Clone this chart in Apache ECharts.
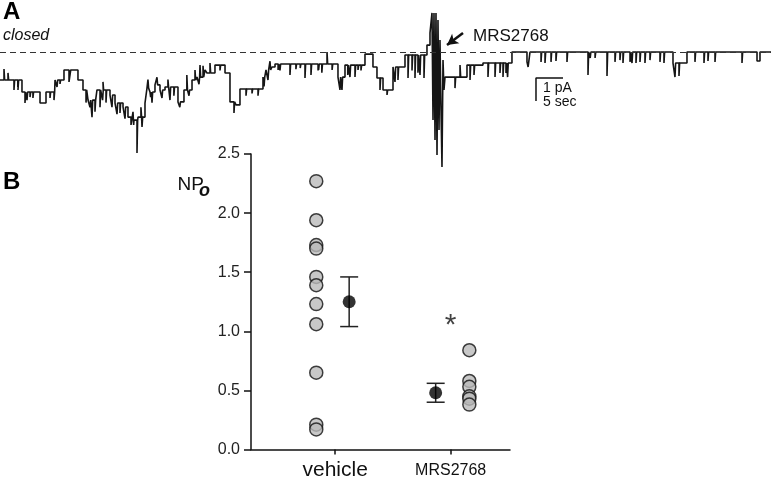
<!DOCTYPE html>
<html><head><meta charset="utf-8">
<script src="https://cdn.jsdelivr.net/npm/echarts@6/dist/echarts.min.js"></script>
<style>html,body{margin:0;padding:0;background:#fff}#c{width:771px;height:481px}</style>
</head><body><div id="c"></div>
<script>
const FONT = '"Liberation Sans", Arial, Helvetica, sans-serif';

// ---------- Panel A: single-channel trace (time in s, current in pA; 0 = closed) ----------
const traceLevels = [
  [0, -1.22], [4.07, -1.74], [7.41, -2.22], [8.52, -1.74], [10.19, -1.22], [11.85, -0.78],
  [12.78, -1.30], [13.1, -0.78], [14.44, -1.22], [15.37, -1.65], [16.30, -2.09], [17.96, -1.65],
  [20.37, -1.87], [21.30, -2.22], [22.78, -2.39], [23.70, -2.83], [24.26, -3.17], [24.81, -2.96],
  [25.56, -2.83], [26.85, -2.22], [27.22, -1.57], [27.78, -1.74], [28.70, -1.43], [29.63, -1.65],
  [30.56, -1.52], [32.96, -2.17], [34.07, -1.65], [35.56, -1.22], [36.48, -1.09], [37.96, -0.78],
  [38.33, -0.91], [39.81, -0.57], [41.67, -0.91], [42.59, -2.17], [43.70, -2.30], [44.44, -1.61],
  [48.70, -1.09], [49.26, -0.78], [50.37, -0.65], [50.93, -0.52], [62.59, -1.09], [63.89, -0.57],
  [67.59, -0.09], [69.07, -0.65], [69.81, -1.13], [70.93, -1.65], [72.78, -0.65], [75.00, -0.13],
  [79.07, 0.30], [79.63, 0.83],
  [80.00, 1.70], [80.19, -2.96], [80.37, 1.70], [80.56, -3.83], [80.74, 1.70], [80.93, -4.48],
  [81.11, 1.39], [81.30, -3.39], [81.48, 0.52], [81.67, -2.52], [81.85, -5.0], [82.04, -0.35],
  [82.22, -1.65], [82.41, -1.09], [86.48, -0.57], [89.44, -0.48], [94.81, 0], [97.59, -0.43],
  [98.15, 0], [124.63, -0.48], [127.22, 0], [140.19, -0.39], [140.74, 0], [142.78, 0]
];
const traceSpikes = [
  [0.74, -0.74], [1.48, -0.91], [2.59, -1.65], [3.3, -1.52], [3.33, -1.65], [4.63, -2.22],
  [5.0, -2.09], [5.56, -1.96], [6.1, -2.0], [9.26, -2.0], [10.0, -2.09], [10.56, -1.52],
  [11.11, -1.39], [15.93, -2.2], [16.67, -2.4], [17.04, -2.83], [17.59, -2.6], [18.52, -2.4],
  [19.0, -2.09], [19.07, -1.3], [19.63, -2.2], [20.74, -2.4], [21.67, -2.7], [22.22, -2.65],
  [23.15, -2.9], [24.63, -2.6], [25.37, -4.39], [26.1, -2.4], [26.30, -3.26], [27.4, -1.2],
  [27.9, -1.96], [28.15, -2.2], [29.07, -1.1], [30.0, -2.0], [31.1, -1.2], [31.48, -2.09],
  [32.2, -1.9], [33.3, -2.4], [34.6, -1.0], [35.0, -1.9], [36.11, -0.78], [36.85, -1.4],
  [37.04, -0.57], [37.6, -0.6], [38.89, -0.48], [39.26, -0.9], [40.74, -0.8], [41.1, -0.5],
  [43.33, -2.65], [45.56, -1.9], [46.67, -1.8], [47.78, -1.9], [48.9, -1.5], [49.63, -1.22],
  [50.0, -0.4], [51.5, -0.78], [51.85, -0.8], [53.70, -1.00], [54.8, -0.75], [55.6, -0.7],
  [56.48, -1.13], [57.59, -1.00], [58.9, -0.8], [59.0, -0.78], [59.6, -0.9], [60.56, 0],
  [61.5, -0.78], [62.96, -1.65], [63.33, -1.65], [64.4, -1.0], [64.81, -1.09], [65.74, -1.09],
  [66.30, -0.78], [66.85, -0.8], [70.37, -1.65], [71.67, -1.87], [73.15, -1.3], [73.70, -1.22],
  [75.56, -1.13], [76.3, -0.8], [76.85, -1.13], [77.4, -0.9], [77.78, -1.00], [78.52, -1.13],
  [84.26, -1.57], [85.19, -0.57], [87.04, -1.22], [87.78, -1.00],
  [90.37, -1.09], [91.67, -1.09], [92.59, -0.91], [93.15, -1.09], [93.70, -0.91], [94.0, -1.09],
  [97.8, -0.65], [100.19, -0.43], [100.93, -0.48], [102.04, -0.43], [102.96, -0.39], [105.00, -0.43],
  [108.89, -1.00], [109.3, -0.26], [110.2, -0.26], [112.41, -1.04], [113.89, -0.43], [114.81, -0.35],
  [115.37, -0.48], [116.67, -0.43], [117.04, -0.48], [117.78, -0.48], [118.52, -0.43], [119.44, -0.48],
  [120.37, -0.35], [122.22, -0.43], [122.96, -0.48], [125.00, -1.09], [125.74, -1.04], [128.70, -0.43],
  [130.37, -0.48], [131.11, -0.39], [132.41, -0.43], [137.41, -0.48]
];
const traceDuration = 142.78;
const scaleBarCurrent = 1;   // pA
const scaleBarTime = 5;      // s

// ---------- Panel B: NPo ----------
const groupNames = ['vehicle', 'MRS2768'];
const vehicleNPo = [2.27, 1.94, 1.73, 1.70, 1.46, 1.39, 1.23, 1.06, 0.65, 0.21, 0.17];
const mrsNPo = [0.84, 0.58, 0.53, 0.45, 0.43, 0.38];
const groupMean = [1.25, 0.48];
const groupErrLow = [1.04, 0.40];
const groupErrHigh = [1.46, 0.56];
const yTickLabels = ['0.0', '0.5', '1.0', '1.5', '2.0', '2.5'];

// layout (axis units of the panel-B x axis, 0..10)
const GROUP_X = [3.25, 7.71];
const DOT_OFF = [-0.73, 0.72];
const MEAN_OFF = [0.54, -0.58];

function buildTrace() {
  const out = [];
  const spikes = traceSpikes.slice().sort((a, b) => a[0] - b[0]);
  let si = 0;
  for (let i = 0; i < traceLevels.length; i++) {
    const t = traceLevels[i][0], v = traceLevels[i][1];
    out.push([t, v]);
    const tNext = i + 1 < traceLevels.length ? traceLevels[i + 1][0] : Infinity;
    while (si < spikes.length && spikes[si][0] < tNext) {
      if (spikes[si][0] >= t) {
        out.push([spikes[si][0], spikes[si][1]]);
        out.push([spikes[si][0] + 0.12, v]);
      }
      si++;
    }
  }
  return out;
}

const sbT = 99.26, sbI = -1.13;
const chart = echarts.init(document.getElementById('c'), null, {renderer: 'canvas'});
const option = {
  backgroundColor: '#fff',
  animation: false,
  textStyle: {fontFamily: FONT},
  grid: [
    {left: 0, right: 0, top: 12, height: 155},
    {left: 251, right: 261, top: 154, bottom: 29.5}
  ],
  xAxis: [
    {gridIndex: 0, type: 'value', min: 0, max: traceDuration, show: false},
    {gridIndex: 1, type: 'value', min: 0, max: 10,
     axisLine: {lineStyle: {color: '#111', width: 1.5}},
     axisTick: {show: true, length: 5, customValues: GROUP_X, lineStyle: {color: '#111', width: 1.5}},
     axisLabel: {
       customValues: GROUP_X, margin: 10, color: '#111', fontFamily: FONT,
       formatter: function (v) {
         let best = 0;
         for (let i = 1; i < GROUP_X.length; i++) if (Math.abs(GROUP_X[i] - v) < Math.abs(GROUP_X[best] - v)) best = i;
         return best === 0 ? '{a|' + groupNames[0] + '}' : '{b|' + groupNames[1] + '}';
       },
       rich: {
         a: {fontSize: 21, lineHeight: 22, fontFamily: FONT, color: '#111'},
         b: {fontSize: 16, lineHeight: 22, fontFamily: FONT, color: '#111'}
       }
     },
     splitLine: {show: false}}
  ],
  yAxis: [
    {gridIndex: 0, type: 'value', min: -5, max: 1.74, show: false},
    {gridIndex: 1, type: 'value', min: 0, max: 2.5, interval: 0.5,
     axisLine: {show: true, lineStyle: {color: '#111', width: 1.5}},
     axisTick: {show: true, length: 7, lineStyle: {color: '#111', width: 1.5}},
     axisLabel: {margin: 11, fontSize: 16, color: '#222', fontFamily: FONT,
       formatter: function (v) { return yTickLabels[Math.round(v / 0.5)]; }},
     splitLine: {show: false}}
  ],
  series: [
    {
      type: 'line', xAxisIndex: 0, yAxisIndex: 0, data: buildTrace(), step: 'end',
      showSymbol: false, symbol: 'none', lineStyle: {color: '#151515', width: 1.6},
      markLine: {
        silent: true, symbol: ['none', 'none'], label: {show: false},
        lineStyle: {color: '#333', type: [6, 4], width: 1},
        data: [{yAxis: 0}]
      },
      z: 3
    },
    {
      type: 'line', xAxisIndex: 0, yAxisIndex: 0,
      data: [[sbT + scaleBarTime, sbI], [sbT, sbI], [sbT, sbI - scaleBarCurrent]],
      showSymbol: false, symbol: 'none', lineStyle: {color: '#111', width: 1.5},
      markLine: {
        silent: true, label: {show: false}, symbol: ['none', 'arrow'], symbolSize: [9, 11],
        lineStyle: {color: '#111', width: 2.5, type: 'solid'},
        data: [[{coord: [85.74, 0.83]}, {coord: [82.78, 0.30]}]]
      }
    },
    {
      type: 'scatter', xAxisIndex: 1, yAxisIndex: 1,
      data: vehicleNPo.map(v => [GROUP_X[0] + DOT_OFF[0], v]),
      symbol: 'circle', symbolSize: 13,
      itemStyle: {color: '#bababa', borderColor: '#111', borderWidth: 1.5}
    },
    {
      type: 'scatter', xAxisIndex: 1, yAxisIndex: 1,
      data: mrsNPo.map(v => [GROUP_X[1] + DOT_OFF[1], v]),
      symbol: 'circle', symbolSize: 13,
      itemStyle: {color: '#bababa', borderColor: '#111', borderWidth: 1.5}
    },
    {
      type: 'custom', xAxisIndex: 1, yAxisIndex: 1,
      data: groupMean.map((m, i) => [GROUP_X[i] + MEAN_OFF[i], groupErrLow[i], groupErrHigh[i]]),
      encode: {x: 0, y: [1, 2]},
      renderItem: function (params, api) {
        const x = api.value(0);
        const pl = api.coord([x, api.value(1)]);
        const ph = api.coord([x, api.value(2)]);
        const w = 9;
        const st = {stroke: '#222', lineWidth: 1.5};
        return {type: 'group', children: [
          {type: 'line', shape: {x1: pl[0], y1: pl[1], x2: ph[0], y2: ph[1]}, style: st},
          {type: 'line', shape: {x1: pl[0] - w, y1: pl[1], x2: pl[0] + w, y2: pl[1]}, style: st},
          {type: 'line', shape: {x1: ph[0] - w, y1: ph[1], x2: ph[0] + w, y2: ph[1]}, style: st}
        ]};
      }
    },
    {
      type: 'scatter', xAxisIndex: 1, yAxisIndex: 1,
      data: groupMean.map((m, i) => [GROUP_X[i] + MEAN_OFF[i], m]),
      symbol: 'circle', symbolSize: 13, itemStyle: {color: '#000'}, z: 5
    },
    {
      type: 'scatter', xAxisIndex: 1, yAxisIndex: 1,
      data: [[GROUP_X[1], 1.11]], symbolSize: 1, itemStyle: {color: 'rgba(0,0,0,0)'},
      label: {show: true, position: 'inside', formatter: '*', fontSize: 30, color: '#111',
        fontFamily: FONT, offset: [0, 7]}
    }
  ],
  graphic: [
    {type: 'text', left: 3, top: 0, style: {text: 'A', font: 'bold 24px ' + FONT, fill: '#000'}},
    {type: 'text', left: 3, top: 170, style: {text: 'B', font: 'bold 24px ' + FONT, fill: '#000'}},
    {type: 'text', left: 3, top: 28, style: {text: 'closed', font: 'italic 16px ' + FONT, fill: '#111'}},
    {type: 'text', left: 473, top: 28, style: {text: 'MRS2768', font: '17px ' + FONT, fill: '#111'}},
    {type: 'text', left: 543, top: 81, style: {text: '1 pA', font: '14px ' + FONT, fill: '#111'}},
    {type: 'text', left: 543, top: 95, style: {text: '5 sec', font: '14px ' + FONT, fill: '#111'}},
    {type: 'text', x: 204, y: 185, style: {text: 'NP', font: '19px ' + FONT, fill: '#111', align: 'right', verticalAlign: 'middle'}},
    {type: 'text', x: 199, y: 191, style: {text: 'o', font: 'italic bold 18px ' + FONT, fill: '#111', align: 'left', verticalAlign: 'middle'}}
  ]
};
chart.setOption(option);
</script>
</body></html>
